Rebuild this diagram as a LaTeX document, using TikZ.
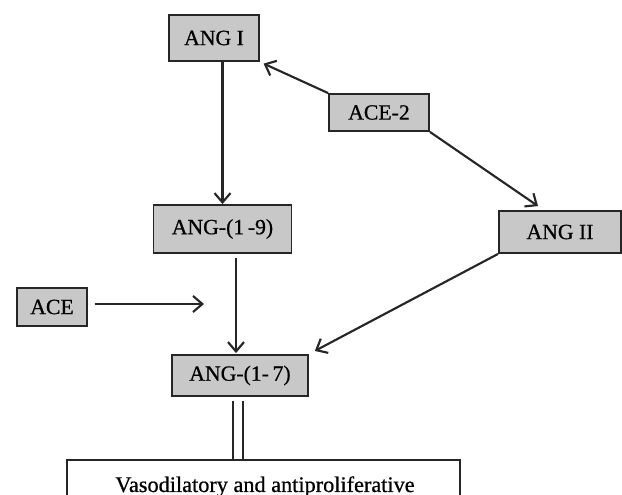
\documentclass[tikz,border=0pt]{standalone}
\usepackage{fontspec}
\setmainfont[FakeBold=0]{Liberation Serif}
\newfontfamily\heavyserif[FakeBold=0.7]{Liberation Serif}
\usetikzlibrary{arrows.meta,calc}
\begin{document}
\begin{tikzpicture}[x=0.75pt,y=-0.75pt,
  box/.style={draw=black!85,line width=1.4pt,fill=boxgray,inner sep=0pt,
    font=\heavyserif\fontsize{16.3}{19}\selectfont,text=black},
  arr/.style={draw=black!85,line width=1.6pt,-{Straight Barb[length=7pt,width=12pt,line width=1.6pt]}},
  dbl/.style={draw=black!85,line width=1pt,double=white,double distance=6.5pt}]
\definecolor{boxgray}{RGB}{200,200,200}
\useasboundingbox (0,0) rectangle (622,495);
\node[box,minimum width=90*0.75pt,minimum height=46*0.75pt] (ang1) at (214,38) {ANG I};
\node[box,minimum width=100*0.75pt,minimum height=37*0.75pt] (ace2) at (379,112.5) {ACE-2};
\node[box,minimum width=138*0.75pt,minimum height=48*0.75pt] (ang19) at (222.5,229) {ANG-(1\,-9)};
\node[box,minimum width=122*0.75pt,minimum height=42*0.75pt] (ang2) at (560,232) {ANG II};
\node[box,minimum width=70*0.75pt,minimum height=38*0.75pt] (ace) at (52,307) {ACE};
\node[box,minimum width=136*0.75pt,minimum height=41*0.75pt] (ang17) at (240,375.5) {ANG-(1-\,7)};
\node[draw=black!85,line width=1.2pt,fill=white,minimum width=393*0.75pt,minimum height=80*0.75pt,inner sep=0pt] (eff) at (263.5,500) {};
\node[anchor=base,font=\heavyserif\fontsize{16.7}{19}\selectfont,text=black,inner sep=0pt] (efft) at (265,492) {Vasodilatory and antiproliferative};
% arrows
\draw[arr,shorten >=3pt] (ace2.north west) -- (ang1.south east);
\coordinate (a2tip) at ($(ang2.north)+(-22,-4)$);
\draw[arr] (ace2.south east) -- (a2tip);
\draw[arr,shorten >=5pt] (ang2.south west) -- (ang17.north east);
\draw[arr] (ang19.north |- ang1.south) -- (ang19.north);
\coordinate (m) at ($(ang17.north)+(-4,-1)$);
\draw[arr,shorten <=3pt] (m |- ang19.south) -- (m);
\coordinate (acet) at (204,304);
\draw[arr,shorten <=5pt] (ace.east |- acet) -- (acet);
\coordinate (d) at ($(ang17.south)+(-2,0)$);
\draw[dbl,shorten <=3pt] (d) -- (d |- eff.north);
\end{tikzpicture}
\end{document}
